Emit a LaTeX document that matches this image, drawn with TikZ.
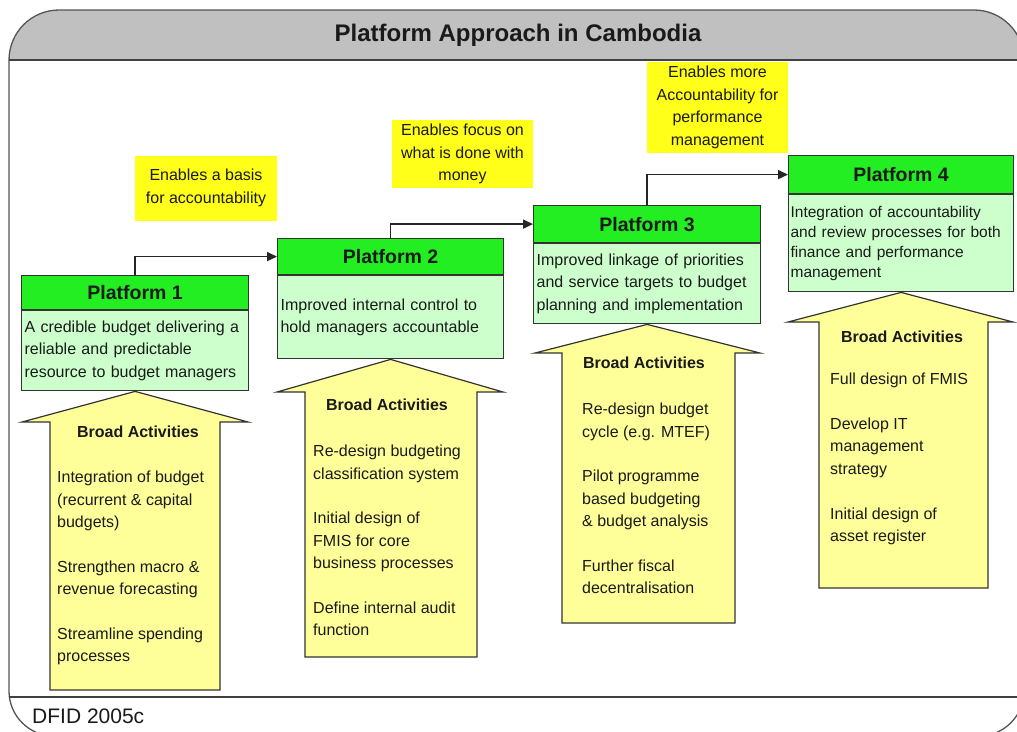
\documentclass[tikz,border=0pt]{standalone}
\usepackage{fontspec}
\setmainfont{Liberation Sans}
\usetikzlibrary{arrows.meta}
\definecolor{hdrgray}{HTML}{C0C0C0}
\definecolor{pgreen}{HTML}{22EE22}
\definecolor{lgreen}{HTML}{CCFFCC}
\definecolor{ayellow}{HTML}{FFFF99}
\definecolor{lyellow}{HTML}{FFFF1A}
\definecolor{ink}{HTML}{1A1A1A}
\definecolor{edge}{HTML}{333333}
\definecolor{framec}{HTML}{555555}
\begin{document}
\begin{tikzpicture}[x=1pt,y=-1pt,
  phead/.style={draw=edge, line width=1.2pt, fill=pgreen, anchor=north west, inner sep=0pt,
    font=\fontsize{19.5}{22}\selectfont\bfseries, text=ink},
  pbody/.style={draw=edge, line width=1.2pt, fill=lgreen, anchor=north west, inner xsep=3pt,
    inner ysep=0pt, align=left, text width=221pt, font=\fontsize{16}{22.5}\selectfont, text=ink},
  bigarrow/.style={draw=edge, line width=1.2pt, fill=ayellow, line join=miter},
  ahead/.style={font=\fontsize{16}{20}\selectfont\bfseries, text=ink, inner sep=0pt},
  aitems/.style={anchor=north west, align=left, inner sep=0pt, font=\fontsize{16}{22.3}\selectfont, text=ink},
  tag/.style={fill=lyellow, inner sep=0pt, align=center, font=\fontsize{16}{22.5}\selectfont, text=ink},
  conn/.style={draw=black!85, line width=1.5pt, -{Triangle[length=10pt,width=9pt]}},
]
\useasboundingbox (0,0) rectangle (1017,731);
\fill[white] (0,0) rectangle (1017,731);
\clip (0,0) rectangle (1017,731);

% frame and header band
\begin{scope}
  \clip (0,0) rectangle (1024,60);
  \fill[hdrgray, rounded corners=50pt] (9,400) -- (9,10) -- (1024,10) -- (1024,400) -- cycle;
\end{scope}
\draw[framec, line width=1.3pt, rounded corners=50pt] (9,400) -- (9,10) -- (1024,10) -- (1024,400);
\draw[framec, line width=1.3pt, rounded corners=45pt] (9,400) -- (9,736) -- (1024,736) -- (1024,400);
\draw[black!75, line width=2pt] (9,60) -- (1024,60);
\draw[black!75, line width=2pt] (9,697) -- (1024,697);

\node[font=\fontsize{24}{28}\selectfont\bfseries, text=ink] (title) at (518,35) {Platform Approach in Cambodia};
\node[anchor=west, font=\fontsize{21}{24}\selectfont, text=ink, inner sep=0pt] (src) at (32,716) {DFID 2005c};

% yellow labels
\node[tag, minimum width=142pt, minimum height=65pt] (l1) at (206,188) {Enables a basis\\for accountability};
\node[tag, minimum width=141pt, minimum height=68pt] (l2) at (462.5,154) {Enables focus on\\what is done with\\money};
\node[tag, minimum width=141pt, minimum height=91pt] (l3) at (717.5,107.5) {Enables more\\Accountability for\\performance\\management};

% platform headers and bodies
\node[phead, minimum width=227pt, minimum height=34pt] (p1h) at (21,275) {Platform 1};
\node[pbody, minimum height=80pt] (p1b) at (p1h.south west) {A credible budget delivering a\\reliable and predictable\\resource to budget managers};
\node[phead, minimum width=226pt, minimum height=36pt] (p2h) at (277,238) {Platform 2};
\node[pbody, text width=220pt, minimum height=83pt] (p2b) at (p2h.south west) {Improved internal control to\\hold managers accountable};
\node[phead, minimum width=227pt, minimum height=37pt] (p3h) at (533,205) {Platform 3};
\node[pbody, minimum height=80pt] (p3b) at (p3h.south west) {Improved linkage of priorities\\and service targets to budget\\planning and implementation};
\node[phead, minimum width=225pt, minimum height=38pt] (p4h) at (788,155) {Platform 4};
\node[pbody, inner xsep=2pt, text width=221pt, minimum height=97pt, font=\fontsize{15.5}{20}\selectfont] (p4b) at (p4h.south west) {Integration of accountability\\and review processes for both\\finance and performance\\management};

% connectors
\draw[conn] (p1h.north) |- (p2h.west);
\draw[conn] (p2h.north) |- (p3h.west);
\draw[conn] (p3h.north) |- (p4h.west);

% big arrows
\draw[bigarrow] (p1b.south) -- (248,422) -- (220,422) -- (220,690) -- (50,690) -- (50,422) -- (22,422) -- cycle;
\draw[bigarrow] (p2b.south) -- (503,392) -- (477,392) -- (477,657) -- (305,657) -- (305,392) -- (277,392) -- cycle;
\draw[bigarrow] (p3b.south) -- (760,353) -- (735,353) -- (735,623) -- (562,623) -- (562,353) -- (535,353) -- cycle;
\draw[bigarrow] (p4b.south) -- (1013,322) -- (988,322) -- (988,588) -- (819,588) -- (819,322) -- (788,322) -- cycle;

% arrow texts
\node[ahead] (a1h) at (138,432) {Broad Activities};
\node[aitems] (a1t) at (57,471) {Integration of budget\\(recurrent \& capital\\budgets)\\[22.5pt]Strengthen macro \&\\revenue forecasting\\[22.5pt]Streamline spending\\processes};
\node[ahead] (a2h) at (387,405) {Broad Activities};
\node[aitems] (a2t) at (313,445) {Re-design budgeting\\classification system\\[22.5pt]Initial design of\\FMIS for core\\business processes\\[22.5pt]Define internal audit\\function};
\node[ahead] (a3h) at (644,363) {Broad Activities};
\node[aitems] (a3t) at (582,403) {Re-design budget\\cycle (e.g. MTEF)\\[22.5pt]Pilot programme\\based budgeting\\\& budget analysis\\[22.5pt]Further fiscal\\decentralisation};
\node[ahead] (a4h) at (902,337) {Broad Activities};
\node[aitems] (a4t) at (830,373) {Full design of FMIS\\[22.5pt]Develop IT\\management\\strategy\\[22.5pt]Initial design of\\asset register};
\end{tikzpicture}
\end{document}
